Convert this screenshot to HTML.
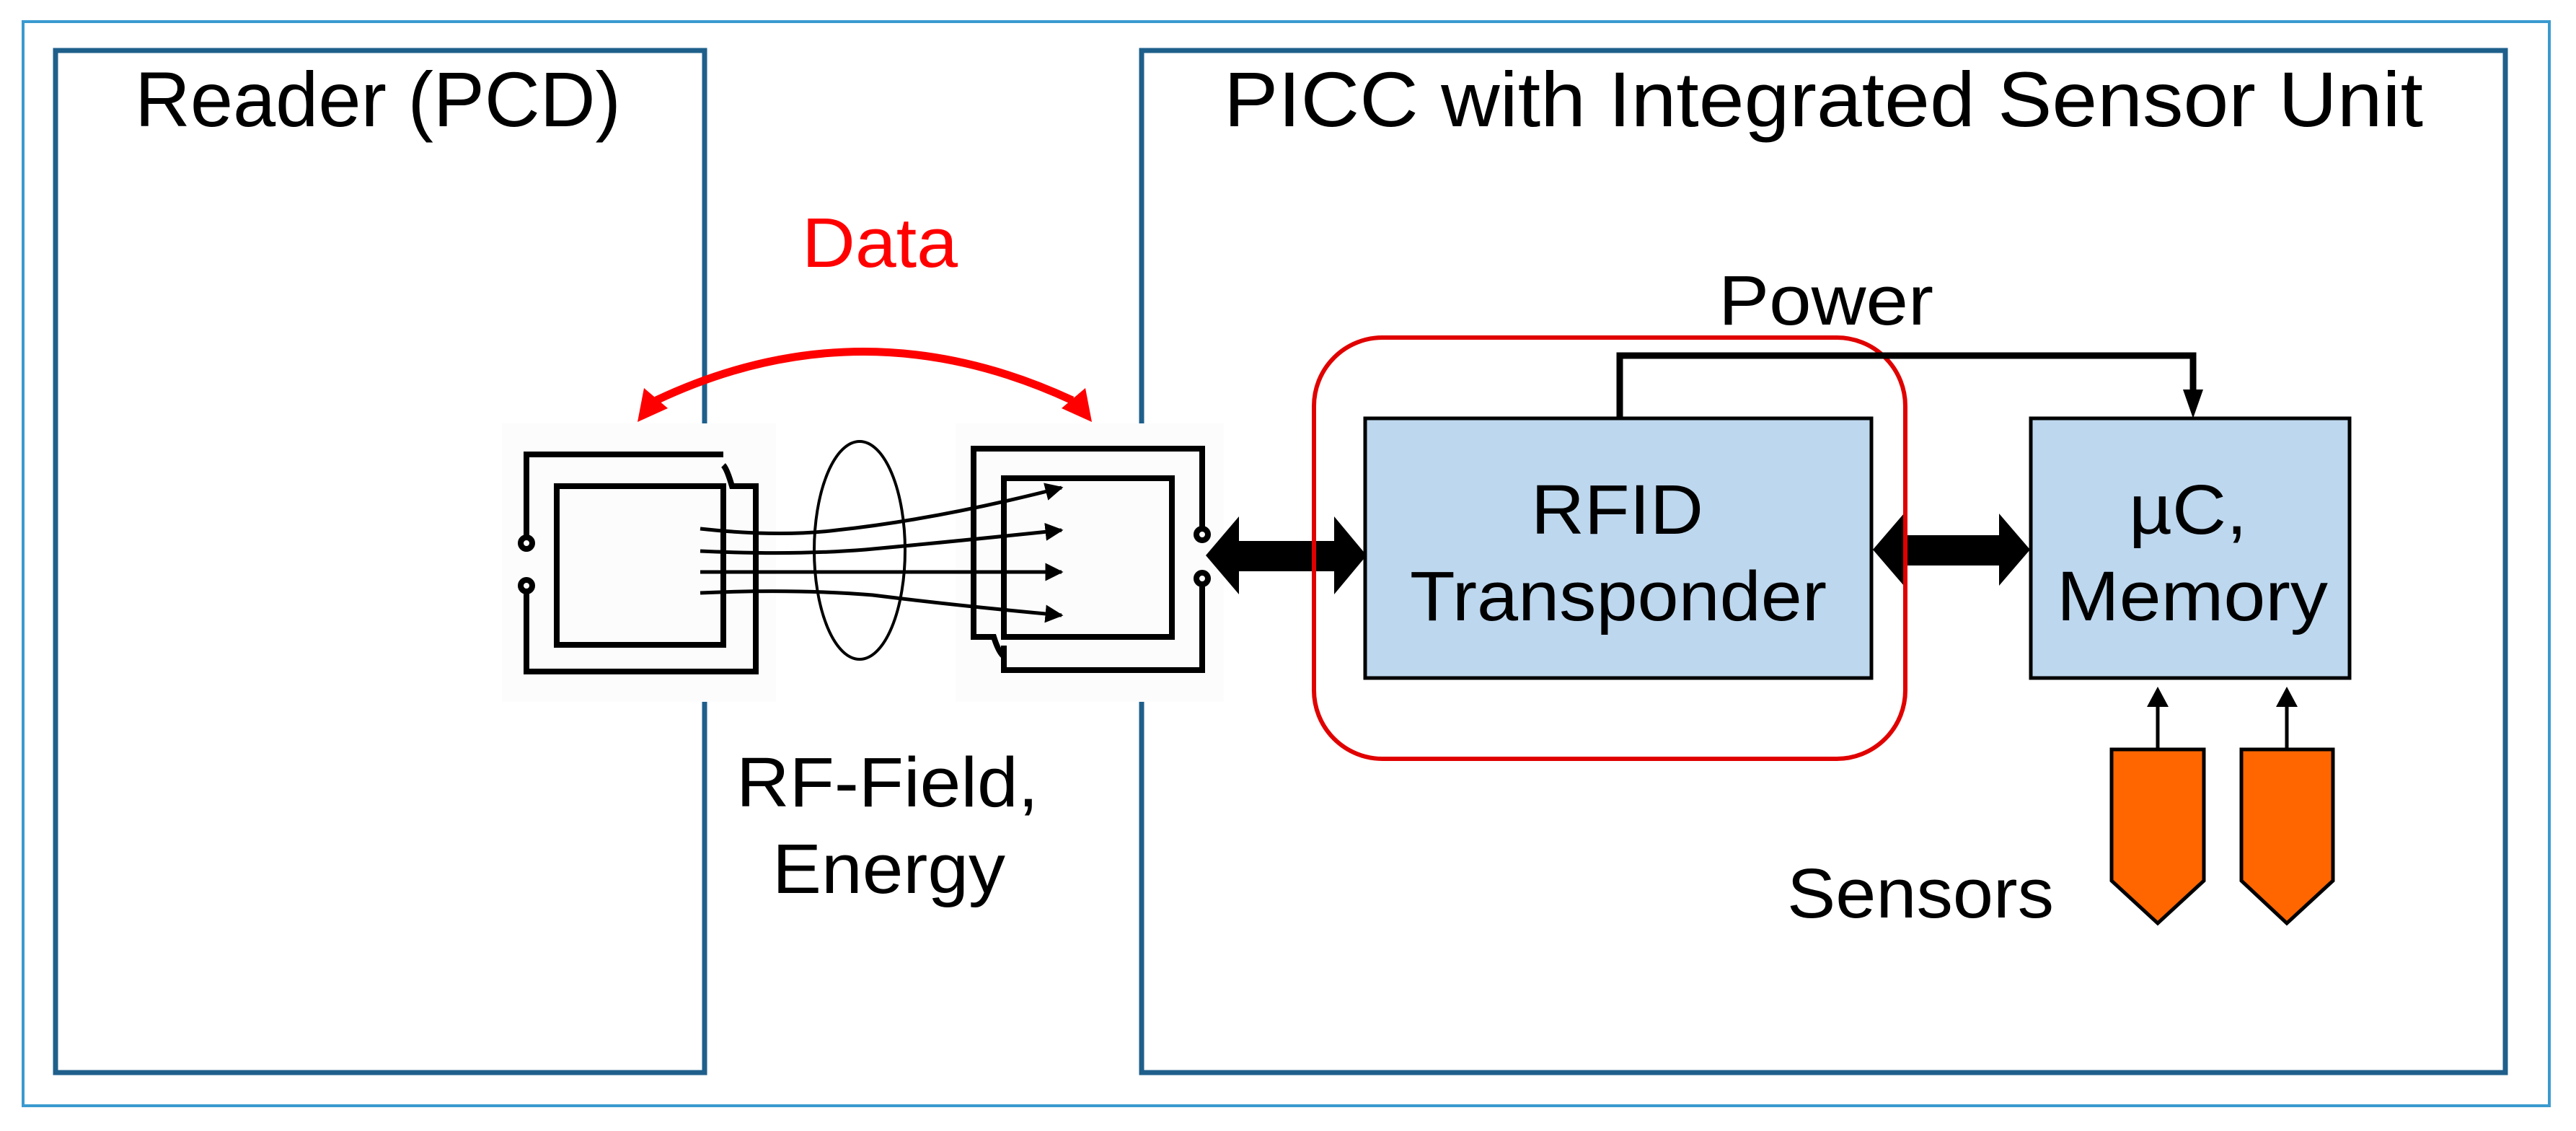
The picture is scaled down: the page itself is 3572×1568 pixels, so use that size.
<!DOCTYPE html>
<html><head><meta charset="utf-8"><style>
html,body{margin:0;padding:0;background:#fff;}
svg{display:block;}
text{font-family:"Liberation Sans",sans-serif;}
</style></head><body>
<svg width="3572" height="1568" viewBox="0 0 3572 1568" xmlns="http://www.w3.org/2000/svg">
<defs>
<marker id="ah" viewBox="0 0 10 10" refX="9" refY="5" markerWidth="5" markerHeight="5" orient="auto"><path d="M0,0 L10,5 L0,10 z" fill="#000"/></marker>
</defs>
<rect x="0" y="0" width="3572" height="1568" fill="#fff"/>
<rect x="32" y="30" width="3503" height="1503" fill="none" stroke="#3a9ad0" stroke-width="4"/>
<rect x="77" y="70" width="900" height="1417" fill="none" stroke="#1f5f8b" stroke-width="7"/>
<rect x="1583" y="70" width="1891" height="1417" fill="none" stroke="#1f5f8b" stroke-width="7"/>
<rect x="696" y="587" width="380" height="386" fill="#fcfcfc"/>
<rect x="1325" y="587" width="372" height="386" fill="#fcfcfc"/>

<text x="187" y="175" font-size="108" textLength="674" lengthAdjust="spacingAndGlyphs">Reader (PCD)</text>
<text x="1697" y="175" font-size="108" textLength="1663" lengthAdjust="spacingAndGlyphs">PICC with Integrated Sensor Unit</text>
<text x="1112" y="370" font-size="97" fill="#ff0000" textLength="216" lengthAdjust="spacingAndGlyphs">Data</text>
<text x="2383" y="450" font-size="97" textLength="298" lengthAdjust="spacingAndGlyphs">Power</text>

<path d="M910,555 Q1196,420 1487,555" fill="none" stroke="#ff0000" stroke-width="11"/>
<path d="M884,585 L893,538 L926,566 z" fill="#ff0000"/>
<path d="M1514,585 L1505,538 L1472,566 z" fill="#ff0000"/>

<g fill="none" stroke="#000" stroke-width="8">
<path d="M730,745 L730,630 L1003,630"/>
<path d="M730,821 L730,931 L1048,931 L1048,674 L1015,674 Q1008,650 1003,645"/>
<rect x="772" y="674" width="231" height="220"/>
<circle cx="730" cy="753" r="8"/>
<circle cx="730" cy="812" r="8"/>
</g>
<g fill="none" stroke="#000" stroke-width="5" marker-end="url(#ah)">
<path d="M971,733 Q1080,745 1160,735 Q1300,720 1472,676"/>
<path d="M971,764 Q1100,770 1200,762 Q1330,750 1472,735"/>
<path d="M971,793 L1472,793"/>
<path d="M971,822 Q1100,816 1210,825 Q1330,840 1472,853"/>
</g>
<ellipse cx="1192" cy="763" rx="63" ry="151" fill="none" stroke="#000" stroke-width="4"/>
<g fill="none" stroke="#000" stroke-width="8">
<path d="M1667,733 L1667,622 L1350,622 L1350,883 L1378,883 Q1385,905 1392,910"/>
<path d="M1667,810 L1667,929 L1392,929 L1392,895"/>
<rect x="1392" y="663" width="233" height="220"/>
<circle cx="1667" cy="741" r="8"/>
<circle cx="1667" cy="802" r="8"/>
</g>

<path d="M1672,770 L1718,716 L1718,750 L1850,750 L1850,716 L1895,770 L1850,824 L1850,792 L1718,792 L1718,824 z" fill="#000"/>

<rect x="1893" y="580" width="702" height="360" fill="#bdd7ee" stroke="#000" stroke-width="5"/>
<text x="2123" y="740" font-size="97" textLength="239" lengthAdjust="spacingAndGlyphs">RFID</text>
<text x="1955" y="860" font-size="97" textLength="578" lengthAdjust="spacingAndGlyphs">Transponder</text>
<rect x="2816" y="580" width="442" height="360" fill="#bdd7ee" stroke="#000" stroke-width="5"/>
<text x="2952" y="740" font-size="97" textLength="164" lengthAdjust="spacingAndGlyphs">µC,</text>
<text x="2852" y="860" font-size="97" textLength="376" lengthAdjust="spacingAndGlyphs">Memory</text>

<path d="M2597,762 L2640,712 L2640,742 L2772,742 L2772,712 L2815,762 L2772,812 L2772,784 L2640,784 L2640,812 z" fill="#000"/>

<rect x="1822" y="468" width="820" height="584" rx="95" ry="95" fill="none" stroke="#e00000" stroke-width="6"/>

<path d="M2246,580 L2246,493 L3041,493 L3041,545" fill="none" stroke="#000" stroke-width="9"/>
<path d="M3027,540 L3055,540 L3041,580 z" fill="#000"/>

<g stroke="#000" stroke-width="5">
<line x1="2992" y1="1039" x2="2992" y2="975"/>
<line x1="3171" y1="1039" x2="3171" y2="975"/>
</g>
<path d="M2992,952 L2977,980 L3007,980 z" fill="#000"/>
<path d="M3171,952 L3156,980 L3186,980 z" fill="#000"/>
<path d="M2928,1039 L3056,1039 L3056,1221 L2992,1280 L2928,1221 z" fill="#ff6600" stroke="#000" stroke-width="5"/>
<path d="M3108,1039 L3235,1039 L3235,1221 L3171,1280 L3108,1221 z" fill="#ff6600" stroke="#000" stroke-width="5"/>
<text x="2478" y="1272" font-size="97" textLength="370" lengthAdjust="spacingAndGlyphs">Sensors</text>

<text x="1021" y="1118" font-size="97" textLength="419" lengthAdjust="spacingAndGlyphs">RF-Field,</text>
<text x="1071" y="1238" font-size="97" textLength="323" lengthAdjust="spacingAndGlyphs">Energy</text>
</svg>
</body></html>
